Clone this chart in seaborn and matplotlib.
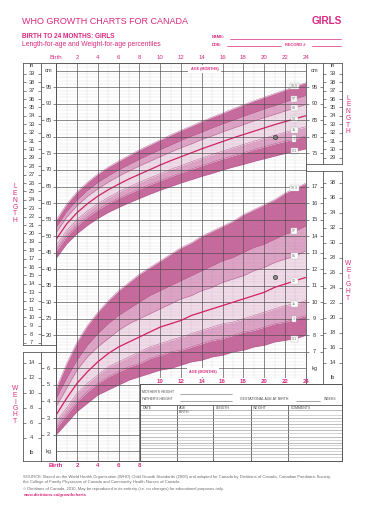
# growth_chart.py
# WHO growth chart for Canada - girls, birth to 24 months
# length-for-age and weight-for-age percentiles on one sheet
# values (WHO 2006 standards)

import matplotlib
matplotlib.use('Agg')
import matplotlib.pyplot as plt
import matplotlib.transforms as mtransforms
from matplotlib.ticker import MultipleLocator
import seaborn as sns

sns.set_theme(style='white')
plt.rcParams['font.family'] = ['Liberation Sans', 'DejaVu Sans']

# ---- data -------------------------------------------------------------
months = list(range(25))
month_ticks = list(range(0, 25, 2))
month_labels = ['Birth'] + [str(m) for m in range(2, 25, 2)]

# length-for-age (cm)
len_p01 = [43.4, 47.7, 50.8, 53.3, 55.4, 57.2, 58.7, 60.1, 61.4, 62.7, 63.9, 65.0, 66.1,
           67.1, 68.1, 69.0, 70.0, 70.9, 71.7, 72.6, 73.4, 74.2, 75.0, 75.7, 76.4]
len_p3 = [45.6, 50.0, 53.2, 55.8, 58.0, 59.9, 61.5, 62.9, 64.3, 65.6, 66.8, 68.0, 69.2,
          70.3, 71.3, 72.4, 73.4, 74.3, 75.2, 76.2, 77.0, 77.9, 78.7, 79.5, 80.3]
len_p15 = [47.2, 51.7, 55.0, 57.6, 59.8, 61.7, 63.4, 64.9, 66.3, 67.6, 68.9, 70.2, 71.3,
           72.5, 73.6, 74.7, 75.7, 76.7, 77.7, 78.7, 79.6, 80.5, 81.4, 82.2, 83.1]
len_p50 = [49.1, 53.7, 57.1, 59.8, 62.1, 64.0, 65.7, 67.3, 68.7, 70.1, 71.5, 72.8, 74.0,
           75.2, 76.4, 77.5, 78.6, 79.7, 80.7, 81.7, 82.7, 83.7, 84.6, 85.5, 86.4]
len_p85 = [51.1, 55.7, 59.2, 62.0, 64.3, 66.3, 68.1, 69.7, 71.2, 72.6, 74.0, 75.4, 76.7,
           77.9, 79.2, 80.3, 81.5, 82.6, 83.7, 84.8, 85.8, 86.8, 87.8, 88.8, 89.8]
len_p97 = [52.7, 57.4, 60.9, 63.8, 66.2, 68.2, 70.0, 71.6, 73.2, 74.7, 76.1, 77.5, 78.9,
           80.2, 81.4, 82.7, 83.9, 85.0, 86.2, 87.3, 88.4, 89.4, 90.5, 91.5, 92.5]
len_p999 = [54.9, 59.7, 63.4, 66.3, 68.8, 70.9, 72.7, 74.4, 76.1, 77.6, 79.1, 80.6, 82.0,
            83.3, 84.7, 86.0, 87.2, 88.5, 89.7, 90.9, 92.0, 93.1, 94.2, 95.3, 96.4]

# weight-for-age (kg)
wt_p01 = [2.0, 2.7, 3.4, 3.9, 4.4, 4.7, 5.0, 5.3, 5.5, 5.7, 5.9, 6.0, 6.2,
          6.4, 6.5, 6.7, 6.8, 7.0, 7.1, 7.3, 7.4, 7.6, 7.7, 7.8, 8.0]
wt_p3 = [2.4, 3.2, 4.0, 4.6, 5.1, 5.5, 5.8, 6.1, 6.3, 6.6, 6.8, 7.0, 7.1,
         7.3, 7.5, 7.7, 7.8, 8.0, 8.2, 8.3, 8.5, 8.7, 8.8, 9.0, 9.2]
wt_p15 = [2.8, 3.6, 4.5, 5.1, 5.6, 6.1, 6.4, 6.7, 7.0, 7.3, 7.5, 7.7, 7.9,
          8.1, 8.3, 8.5, 8.7, 8.8, 9.0, 9.2, 9.4, 9.6, 9.8, 9.9, 10.1]
wt_p50 = [3.2, 4.2, 5.1, 5.8, 6.4, 6.9, 7.3, 7.6, 7.9, 8.2, 8.5, 8.7, 8.9,
          9.2, 9.4, 9.6, 9.8, 10.0, 10.2, 10.4, 10.6, 10.9, 11.1, 11.3, 11.5]
wt_p85 = [3.7, 4.8, 5.9, 6.7, 7.3, 7.8, 8.3, 8.7, 9.0, 9.3, 9.6, 9.9, 10.2,
          10.4, 10.7, 10.9, 11.2, 11.4, 11.6, 11.9, 12.1, 12.4, 12.6, 12.8, 13.1]
wt_p97 = [4.2, 5.4, 6.5, 7.4, 8.1, 8.7, 9.2, 9.6, 10.0, 10.4, 10.7, 11.0, 11.3,
          11.6, 11.9, 12.2, 12.5, 12.7, 13.0, 13.3, 13.5, 13.8, 14.1, 14.3, 14.6]
wt_p999 = [4.8, 6.3, 7.6, 8.6, 9.4, 10.1, 10.7, 11.2, 11.7, 12.1, 12.5, 12.9, 13.3,
           13.6, 14.0, 14.3, 14.6, 14.9, 15.3, 15.6, 15.9, 16.2, 16.6, 16.9, 17.2]

pct_names = ['0.1', '3', '15', '50', '85', '97', '99.9']

# the one plotted visit
child_age = [21]
child_len = [80.0]
child_wt = [11.5]

# ---- style --------------------------------------------------------------
PINK = '#d8297f'
OUTER = '#c96a9e'
MID = '#dea3c6'
INNER = '#f2dbe9'
EDGE = '#b65a8e'
MEDIAN = '#d41f63'
INK = '#3a3a3a'

W, H = 390, 512   # output size in px


def rect(x0, y0, x1, y1):
    # pixel box (top-left origin) -> figure fraction rect
    return [x0 / W, 1 - y1 / H, (x1 - x0) / W, (y1 - y0) / H]


def px_cm(py):
    # vertical pixel -> cm (95 cm sits at 87.3 px, 3.307 px per cm)
    return 95 + (87.3 - py) / 3.307


def cm_kg(cm):
    # weight grid is laid over the length grid: 1 kg = 5 cm, 0 kg = -20 cm
    return (cm + 20) / 5


def ftext(x, y, s, **kw):
    fig.text(x / W, 1 - y / H, s, **kw)


def fline(x0, x1, y, **kw):
    fig.add_artist(plt.Line2D([x0 / W, x1 / W], [1 - y / H] * 2, **kw))


fig = plt.figure(figsize=(W / 100, H / 100), dpi=100)
fig.patch.set_facecolor('white')

# ---- main grid ------------------------------------------------------------
GY0, GY1 = 63.3, 460.7
ax = fig.add_axes(rect(56.3, GY0, 305.7, GY1))
ax.set_xlim(0, 24)
ax.set_ylim(px_cm(GY1), px_cm(GY0))
ax.set_facecolor('white')

ax_w = ax.twinx()
ax_w.set_ylim(cm_kg(px_cm(GY1)), cm_kg(px_cm(GY0)))


def draw_bands(axis, p01, p3, p15, p50, p85, p97, p999, lab_i):
    for lo, hi, c in [(p01, p3, OUTER), (p3, p15, MID), (p15, p85, INNER),
                      (p85, p97, MID), (p97, p999, OUTER)]:
        axis.fill_between(months, lo, hi, color=c, lw=0, zorder=1)
    for p in [p01, p3, p15, p85, p97, p999]:
        axis.plot(months, p, color=EDGE, lw=0.3, zorder=2)
    sns.lineplot(x=months, y=p50, ax=axis, color=MEDIAN, lw=0.9, zorder=3)
    # little percentile tags near the right edge
    for p, name in zip([p01, p3, p15, p50, p85, p97, p999], pct_names):
        axis.text(22.9, p[lab_i], name, ha='center', va='center', fontsize=2.7,
                  color='#7a7a7a', zorder=4,
                  bbox=dict(boxstyle='square,pad=0.3', fc='white', ec='#b8b8b8', lw=0.3))


draw_bands(ax, len_p01, len_p3, len_p15, len_p50, len_p85, len_p97, len_p999, 23)
draw_bands(ax_w, wt_p01, wt_p3, wt_p15, wt_p50, wt_p85, wt_p97, wt_p999, 23)

sns.scatterplot(x=child_age, y=child_len, ax=ax, s=9, color='#8d8d8d',
                edgecolor='#333333', linewidth=0.5, zorder=5)
sns.scatterplot(x=child_age, y=child_wt, ax=ax_w, s=9, color='#8d8d8d',
                edgecolor='#333333', linewidth=0.5, zorder=5)

# grid sits on the top (weight) axes so it shows over every band
ax.set_xticks(month_ticks)
ax.set_xticklabels(month_labels)
ax.xaxis.set_minor_locator(MultipleLocator(1))
ax_w.xaxis.set_visible(True)
ax_w.yaxis.set_major_locator(MultipleLocator(1))
ax_w.yaxis.set_minor_locator(MultipleLocator(0.2))
ax_w.set_axisbelow(False)
ax_w.grid(which='major', axis='both', color='#4a4a4a', lw=0.6, alpha=0.75)
ax_w.grid(which='minor', axis='both', color='#8a8a8a', lw=0.3, alpha=0.28)

ax.tick_params(axis='x', which='both', bottom=False, top=False, labelbottom=False,
               labeltop=True, length=0, pad=2.2, labelsize=4.4, labelcolor=PINK)
ax.tick_params(axis='y', which='both', left=False, right=False,
               labelleft=False, labelright=False)
ax_w.tick_params(axis='both', which='both', left=False, right=False, top=False,
                 bottom=False, labelleft=False, labelright=False,
                 labeltop=False, labelbottom=False, length=0)
for s in ax.spines.values():
    s.set_visible(False)
for s in ax_w.spines.values():
    s.set_visible(True)
    s.set_color('#555555')
    s.set_linewidth(0.7)

# white strip with the lower month row, then the record table
strip = fig.add_axes(rect(140.8, 378.3, 305.2, 384.3))
strip.set_facecolor('white')
strip.set_xticks([])
strip.set_yticks([])
for s in strip.spines.values():
    s.set_visible(False)

tab = fig.add_axes(rect(140, 384.3, 341.7, 460.7))
tab.set_facecolor('white')
tab.set_xlim(140, 341.7)
tab.set_ylim(460.7, 384.3)
tab.set_xticks([])
tab.set_yticks([])
for s in tab.spines.values():
    s.set_color('#555555')
    s.set_linewidth(0.7)

small = dict(fontsize=2.5, color='#4a4a4a', va='center')
tab.text(142.3, 392.3, "MOTHER'S HEIGHT", **small)
tab.plot([180, 232], [393.7, 393.7], color='#666666', lw=0.4)
tab.text(142.3, 399.3, "FATHER'S HEIGHT", **small)
tab.plot([180, 232], [400.7, 400.7], color='#666666', lw=0.4)
tab.text(240, 399.3, 'GESTATIONAL AGE AT BIRTH', **small)
tab.plot([296, 320], [400.7, 400.7], color='#666666', lw=0.4)
tab.text(324, 399.3, 'WEEKS', **small)
tab.plot([140, 341.7], [405, 405], color='#555555', lw=0.6)
for cx in [176.7, 213.3, 250.7, 288.3]:
    tab.plot([cx, cx], [405, 460.7], color='#555555', lw=0.6)
for hx, hs in [(142.3, 'DATE'), (178.5, 'AGE'), (215.5, 'LENGTH'),
               (252.7, 'WEIGHT'), (290.5, 'COMMENTS')]:
    tab.text(hx, 407.8, hs, **small)
tab.text(178.5, 412.2, 'BIRTH', **small)
row_y = [410, 414.5, 418, 421, 424, 427, 430, 433, 436.5, 439.5,
         442.5, 445, 448, 450.5, 453.5, 456.5]
for i, ry in enumerate(row_y):
    tab.plot([140, 341.7], [ry, ry], color='#8a8a8a' if i % 2 == 0 else '#b5b5b5', lw=0.4)

# ---- side scales ----------------------------------------------------------
def side_col(x0, x1, y0, y1, conv, ticks, unit, unit_val):
    a = fig.add_axes(rect(x0, y0, x1, y1))
    a.set_facecolor('white')
    a.set_xlim(0, 1)
    a.set_ylim(conv(px_cm(y1)), conv(px_cm(y0)))
    a.set_xticks([])
    a.set_yticks(ticks)
    a.tick_params(axis='y', direction='in', left=True, right=True, length=2.0,
                  width=0.45, color='#444444', labelleft=False, labelright=False)
    trans = mtransforms.blended_transform_factory(a.transAxes, a.transData)
    for t in ticks:
        a.text(0.5, t, str(t), transform=trans, ha='center', va='center',
               fontsize=4.1, color=INK)
    a.text(0.5, unit_val, unit, transform=trans, ha='center', va='center',
           fontsize=4.1, color=INK)
    for s in a.spines.values():
        s.set_color('#555555')
        s.set_linewidth(0.6)
    return a


def to_in(cm):
    return cm / 2.54


def to_kg(cm):
    return cm_kg(cm)


def to_lb(cm):
    return cm_kg(cm) * 2.20462


def to_cm(cm):
    return cm


side_col(22.7, 40.7, 63.3, 345, to_in, list(range(7, 40)), 'in', 40)
side_col(40.7, 56.3, 63.3, 345, to_cm, list(range(20, 100, 5)), 'cm', 100)
side_col(22.7, 40.7, 351.7, 460.7, to_lb, list(range(4, 15, 2)), 'lb', 2)
side_col(40.7, 56.3, 351.7, 460.7, to_kg, list(range(2, 7)), 'kg', 1)
side_col(305.7, 323.3, 63.3, 164, to_cm, list(range(75, 100, 5)), 'cm', 100)
side_col(323.3, 341.7, 63.3, 164, to_in, list(range(29, 40)), 'in', 40)
side_col(305.7, 323.3, 170.7, 384.3, to_kg, list(range(7, 18)), 'kg', 6)
side_col(323.3, 341.7, 170.7, 384.3, to_lb, list(range(14, 39, 2)), 'lb', 12)

# ---- texts ----------------------------------------------------------------
mtrans = mtransforms.blended_transform_factory(ax.transData, fig.transFigure)
for m, lab in zip(month_ticks, month_labels):
    yb = 465.2 if m <= 8 else 381.5
    fig.text(m, 1 - yb / H, lab, transform=mtrans, ha='center', va='center',
             fontsize=4.4, color=PINK, fontweight='bold', zorder=6)

age_box = dict(boxstyle='square,pad=0.6', fc='white', ec='none')
ftext(204.5, 69, 'AGE (MONTHS)', ha='center', va='center', fontsize=2.7,
      color=PINK, fontweight='bold', bbox=age_box, zorder=6)
ftext(203, 372.3, 'AGE (MONTHS)', ha='center', va='center', fontsize=2.7,
      color=PINK, fontweight='bold', bbox=age_box, zorder=6)

for word, x, y0, step in [('LENGTH', 15, 186.7, 6.8), ('LENGTH', 348.3, 98.3, 6.7),
                          ('WEIGHT', 348.3, 263.3, 7.0), ('WEIGHT', 15, 389, 6.5)]:
    for i, ch in enumerate(word):
        ftext(x, y0 + i * step, ch, ha='center', va='center', fontsize=4.8, color=PINK)

ftext(22.5, 21.7, 'WHO GROWTH CHARTS FOR CANADA', fontsize=6.5, color=PINK, va='center')
ftext(341.5, 21.2, 'GIRLS', fontsize=7.2, color=PINK, va='center', ha='right',
      fontweight='bold')
ftext(22.5, 36.2, 'BIRTH TO 24 MONTHS: GIRLS', fontsize=4.7, color=PINK, va='center',
      fontweight='bold')
ftext(22.5, 44.4, 'Length-for-age and Weight-for-age percentiles', fontsize=4.9,
      color=PINK, va='center')

hdr = dict(fontsize=2.9, color=PINK, va='center', fontweight='bold')
ftext(212, 37, 'NAME:', **hdr)
fline(230, 340.7, 38.6, color=PINK, lw=0.5)
ftext(212, 44.6, 'DOB:', **hdr)
fline(226.7, 281, 46.2, color=PINK, lw=0.5)
ftext(285, 44.6, 'RECORD #', **hdr)
fline(312.3, 340.7, 46.2, color=PINK, lw=0.5)

src = dict(fontsize=2.95, color='#6a6a6a', va='center')
ftext(23, 476.7, 'SOURCE: Based on the World Health Organization (WHO) Child Growth '
      'Standards (2006) and adapted for Canada by Dietitians of Canada, Canadian '
      'Paediatric Society,', **src)
ftext(23, 481.7, 'the College of Family Physicians of Canada and Community Health '
      'Nurses of Canada.', **src)
ftext(23, 489.4, '\u00a9 Dietitians of Canada, 2010. May be reproduced in its entirety '
      '(i.e. no changes) for educational purposes only.', **src)
ftext(23, 494.8, 'www.dietitians.ca/growthcharts', fontsize=3.1, color=PINK,
      va='center', fontweight='bold')

fig.savefig('out.png', dpi=100, facecolor='white')
plt.close(fig)
